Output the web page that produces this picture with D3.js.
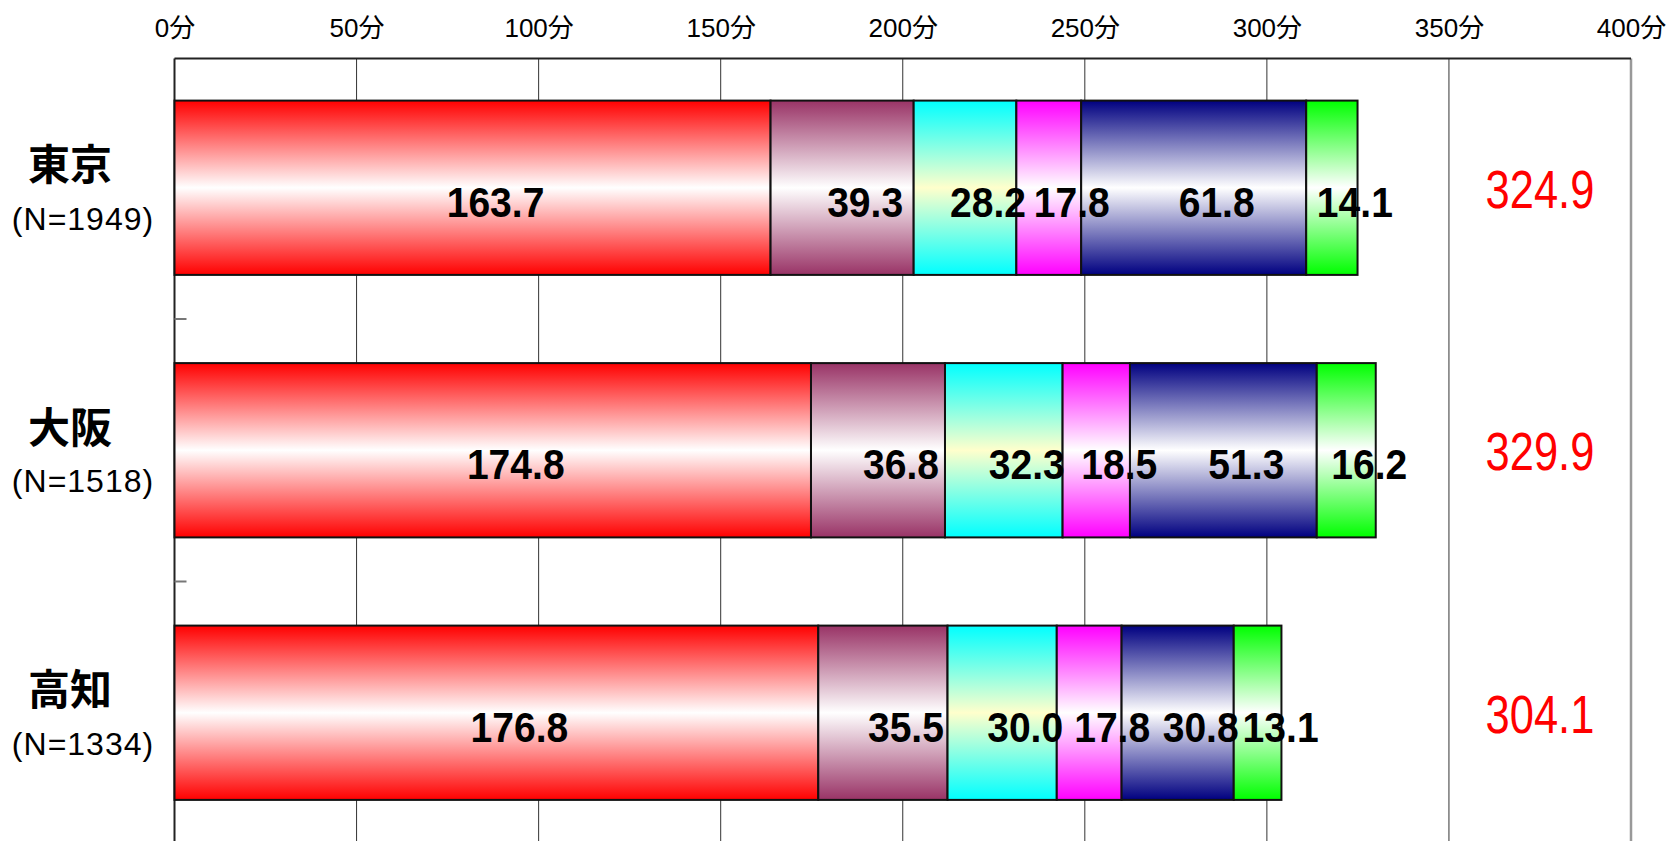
<!DOCTYPE html>
<html>
<head>
<meta charset="utf-8">
<script src="https://cdn.jsdelivr.net/npm/d3@7"></script>
<style>
  body { margin: 0; background: #fff; }
  svg { display: block; }
</style>
</head>
<body>
<svg width="1667" height="841"></svg>
<script>
// categories and values
var cities = ["東京", "大阪", "高知"];
var samples = ["(N=1949)", "(N=1518)", "(N=1334)"];
var keys = ["項目1", "項目2", "項目3", "項目4", "項目5", "項目6"];
var tokyo = [163.7, 39.3, 28.2, 17.8, 61.8, 14.1];
var osaka = [174.8, 36.8, 32.3, 18.5, 51.3, 16.2];
var kochi = [176.8, 35.5, 30.0, 17.8, 30.8, 13.1];
var totals = [324.9, 329.9, 304.1];
var tickValues = [0, 50, 100, 150, 200, 250, 300, 350, 400];

var edgeColors = ["#ff0000", "#993366", "#00ffff", "#ff00ff", "#000080", "#00ff00"];
var midColors = ["#ffffff", "#ffffff", "#ffffcc", "#ffffff", "#ffffff", "#ffffff"];

var svg = d3.select("svg"),
	plotLeft = 174.5,
	plotRight = 1631,
	plotTop = 58.5,
	plotBottom = 846;

var rows = [tokyo, osaka, kochi].map(function (vals, i) {
	var r = { city: cities[i] };
	keys.forEach(function (k, j) { r[k] = vals[j]; });
	return r;
});

var x = d3.scaleLinear().domain([0, 400]).range([plotLeft, plotRight]);
var y = d3.scaleBand().domain(cities).range([plotTop - 2, plotBottom - 2])
	.paddingInner(0.336).paddingOuter(0.168);

var defs = svg.append("defs");
keys.forEach(function (k, i) {
	var grad = defs.append("linearGradient")
		.attr("id", "g" + i)
		.attr("x1", 0).attr("y1", 0).attr("x2", 0).attr("y2", 1);
	grad.append("stop").attr("offset", "0%").attr("stop-color", edgeColors[i]);
	grad.append("stop").attr("offset", "50%").attr("stop-color", midColors[i]);
	grad.append("stop").attr("offset", "100%").attr("stop-color", edgeColors[i]);
});

// gridlines
svg.append("g")
	.selectAll("line")
	.data(tickValues.slice(1))
	.enter().append("line")
	.attr("x1", function (d) { return x(d); })
	.attr("x2", function (d) { return x(d); })
	.attr("y1", plotTop)
	.attr("y2", plotBottom)
	.attr("stroke", function (d) { return d === 400 ? "#999" : "#333"; })
	.attr("stroke-width", function (d) { return d === 400 ? 2.5 : 1; });

// top axis labels
var axis = svg.append("g")
	.attr("transform", "translate(0," + plotTop + ")")
	.call(d3.axisTop(x).tickValues(tickValues).tickSize(0).tickPadding(22)
		.tickFormat(function (d) { return d + "分"; }));
axis.select(".domain").remove();
axis.selectAll("text")
	.attr("font-family", "'Liberation Sans', 'Noto Sans CJK JP', sans-serif")
	.attr("font-size", 26)
	.attr("fill", "#000");

// frame: top and left
svg.append("line")
	.attr("x1", plotLeft).attr("x2", plotRight).attr("y1", plotTop).attr("y2", plotTop)
	.attr("stroke", "#222").attr("stroke-width", 2);
svg.append("line")
	.attr("x1", plotLeft).attr("x2", plotLeft).attr("y1", plotTop).attr("y2", plotBottom)
	.attr("stroke", "#222").attr("stroke-width", 2);

// small ticks between categories
var step = y.step();
svg.append("g")
	.selectAll("line")
	.data(cities.slice(0, -1))
	.enter().append("line")
	.attr("x1", plotLeft).attr("x2", plotLeft + 12)
	.attr("y1", function (d) { return y(d) - step * y.paddingInner() / 2 + step; })
	.attr("y2", function (d) { return y(d) - step * y.paddingInner() / 2 + step; })
	.attr("stroke", "#777").attr("stroke-width", 2);

var stacked = d3.stack().keys(keys)(rows);

var layer = svg.append("g")
	.selectAll("g")
	.data(stacked)
	.enter().append("g")
	.attr("fill", function (d, i) { return "url(#g" + i + ")"; });

layer.selectAll("rect")
	.data(function (d) { return d; })
	.enter().append("rect")
	.attr("x", function (d) { return x(d[0]); })
	.attr("y", function (d) { return y(d.data.city); })
	.attr("width", function (d) { return x(d[1]) - x(d[0]); })
	.attr("height", y.bandwidth())
	.attr("stroke", "#111")
	.attr("stroke-width", 2);

// value labels on top of all segments (narrowed a little like the original font)
svg.append("g")
	.selectAll("text")
	.data(d3.merge(stacked))
	.enter().append("text")
	.attr("transform", function (d) {
		return "translate(" + (x((d[0] + d[1]) / 2) + 23) + "," + (y(d.data.city) + y.bandwidth() / 2 + 29) + ") scale(0.93,1)";
	})
	.attr("text-anchor", "middle")
	.attr("font-family", "'Liberation Sans', Arial, sans-serif")
	.attr("font-weight", "bold")
	.attr("font-size", 42)
	.attr("fill", "#000")
	.text(function (d) { return (d[1] - d[0]).toFixed(1); });

// totals
svg.append("g")
	.selectAll("text")
	.data(totals)
	.enter().append("text")
	.attr("transform", function (d, i) {
		return "translate(" + x(375) + "," + (y(cities[i]) + y.bandwidth() / 2 + 20) + ") scale(0.82,1)";
	})
	.attr("text-anchor", "middle")
	.attr("font-family", "'Liberation Sans', sans-serif")
	.attr("font-size", 53)
	.attr("fill", "#ff0000")
	.text(function (d) { return d.toFixed(1); });

// category labels
var cat = svg.append("g")
	.selectAll("g")
	.data(cities)
	.enter().append("g")
	.attr("transform", function (d) { return "translate(76," + (y(d) + y.bandwidth() / 2) + ")"; });

cat.append("text")
	.attr("x", -6)
	.attr("y", -26)
	.attr("dominant-baseline", "central")
	.attr("text-anchor", "middle")
	.attr("font-family", "'Noto Sans CJK JP', sans-serif")
	.attr("font-weight", "bold")
	.attr("font-size", 42)
	.text(function (d) { return d; });

cat.append("text")
	.attr("x", 7)
	.attr("y", 31)
	.attr("dominant-baseline", "central")
	.attr("text-anchor", "middle")
	.attr("font-family", "'Liberation Sans', sans-serif")
	.attr("font-size", 32)
	.attr("letter-spacing", 1)
	.text(function (d, i) { return samples[i]; });
</script>
</body>
</html>
